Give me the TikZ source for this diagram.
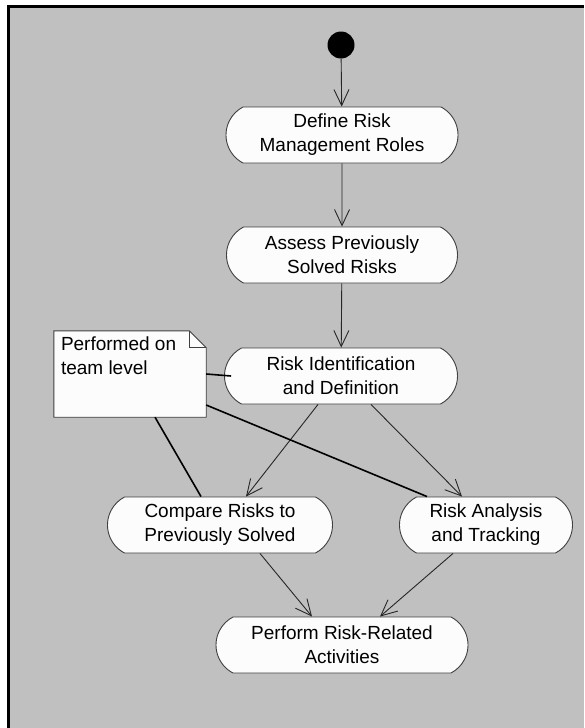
\documentclass[tikz,border=0pt]{standalone}
\usepackage{fontspec}
\setmainfont{Liberation Sans}
\usetikzlibrary{shapes.misc,arrows.meta}
\definecolor{bg}{HTML}{C0C0C0}
\definecolor{nodefill}{HTML}{FCFCFC}
\definecolor{edge}{HTML}{404040}
\tikzset{
  act/.style={rounded rectangle, rounded rectangle arc length=125, draw=edge, fill=nodefill,
    line width=0.9pt, inner sep=0pt, minimum height=56pt, align=center,
    font=\fontsize{19}{24}\selectfont},
  flow/.style={draw=black!85, line width=0.9pt, -{Straight Barb[length=16pt,width=15pt,line width=0.9pt]}},
  anchorline/.style={draw=black, line width=1.6pt},
}
\begin{document}
\begin{tikzpicture}[x=1pt,y=-1pt]
\useasboundingbox (0,0) rectangle (584,728);
\fill[bg] (8,5) rectangle (584,728);
\draw[black, line width=3pt] (8.5,728) -- (8.5,6.5) -- (584,6.5);

\node[circle, fill=black, minimum size=27pt, inner sep=0pt] (start) at (341,45) {};
\node[act, minimum width=232pt] (def) at (342,135) {Define Risk\\Management Roles};
\node[act, minimum width=231pt] (ass) at (342,255) {Assess Previously\\Solved Risks};
\node[act, minimum width=233pt] (rid) at (341,376) {Risk Identification\\and Definition};
\node[act, minimum width=225pt] (cmp) at (220,525) {Compare Risks to\\Previously Solved};
\node[act, minimum width=173pt] (ana) at (486,525) {Risk Analysis\\and Tracking};
\node[act, minimum width=252pt] (perf) at (342,645) {Perform Risk-Related\\Activities};

% note
\node[inner sep=0pt, minimum width=152pt, minimum height=86pt] (note) at (130,374) {};
\draw[draw=edge, fill=nodefill, line width=0.9pt]
  (note.south west) -- (note.north west) -- ([xshift=-17pt]note.north east)
  -- ([yshift=-17pt]note.north east) -- (note.south east) -- cycle;
\draw[draw=edge, line width=0.9pt] ([xshift=-17pt]note.north east) -- ([xshift=-17pt,yshift=-17pt]note.north east)
  -- ([yshift=-17pt]note.north east);
\node[anchor=north west, inner sep=0pt, align=left, font=\fontsize{19}{24}\selectfont] (notetext)
  at ([xshift=7pt,yshift=-6pt]note.north west) {Performed on\\team level};

\draw[flow] (start) -- (def);
\draw[flow] (def) -- (ass);
\draw[flow] (ass) -- (rid);
\draw[flow] ([xshift=-23pt]rid.south) -- ([xshift=26pt]cmp.north);
\draw[flow] ([xshift=30pt]rid.south) -- ([xshift=-24pt]ana.north);
\draw[flow] ([xshift=40pt]cmp.south) -- ([xshift=-30pt]perf.north);
\draw[flow] ([xshift=-33pt]ana.south) -- ([xshift=38pt]perf.north);

\draw[anchorline] (note.east) -- ([xshift=7pt]rid.west);
\draw[anchorline] ([xshift=25pt]note.south) -- ([xshift=-19pt]cmp.north);
\draw[anchorline] ([yshift=-31pt]note.east) -- ([xshift=-59pt]ana.north);
\end{tikzpicture}
\end{document}
